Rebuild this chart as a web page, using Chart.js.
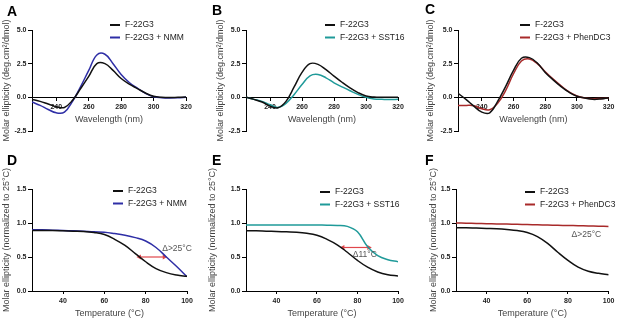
<!DOCTYPE html>
<html>
<head>
  <script src="https://cdn.jsdelivr.net/npm/chart.js"></script>
  <style>
    body { margin: 0; background: #fff; }
    #wrap { position: relative; width: 617px; height: 320px; }
    #wrap canvas { position: absolute; left: 0; top: 0; }
  </style>
</head>
<body>
  <div id="wrap">
    <canvas id="chartA" width="617" height="320"></canvas>
    <canvas id="chartB" width="617" height="320"></canvas>
    <canvas id="chartC" width="617" height="320"></canvas>
    <canvas id="chartD" width="617" height="320"></canvas>
    <canvas id="chartE" width="617" height="320"></canvas>
    <canvas id="chartF" width="617" height="320"></canvas>
  </div>
  <script>
// CD spectra (top row)
const wavelength = [225, 230, 235, 240, 245, 250, 255, 260, 265, 270, 275, 280, 285, 290, 295, 300, 305, 310, 315, 320];
const cdA_f22g3 = [-0.15, -0.3, -0.5, -0.7, -0.75, -0.22, 0.65, 1.55, 2.5, 2.5, 2.0, 1.4, 0.98, 0.65, 0.32, 0.08, 0.0, -0.02, 0.0, 0.02];
const cdA_nmm = [-0.35, -0.6, -0.9, -1.15, -1.1, -0.3, 0.8, 2.0, 3.15, 3.2, 2.5, 1.7, 1.1, 0.68, 0.3, 0.05, -0.03, -0.05, -0.03, 0.0];
const cdB_f22g3 = [0.0, -0.15, -0.35, -0.65, -0.78, -0.3, 0.75, 1.85, 2.5, 2.45, 2.05, 1.58, 1.12, 0.7, 0.35, 0.1, 0.02, 0.0, 0.0, 0.0];
const cdB_sst16 = [0.0, -0.15, -0.3, -0.55, -0.75, -0.45, 0.2, 0.95, 1.6, 1.7, 1.45, 1.08, 0.78, 0.49, 0.22, 0.0, -0.12, -0.15, -0.17, -0.15];
const cdC_f22g3 = [0.3, -0.15, -0.65, -1.1, -1.15, -0.3, 0.8, 2.0, 2.9, 2.95, 2.55, 1.85, 1.3, 0.8, 0.38, 0.08, -0.05, -0.15, -0.12, -0.03];
const cdC_phendc3 = [-0.6, -0.6, -0.62, -0.85, -0.92, -0.45, 0.5, 1.75, 2.7, 2.85, 2.5, 1.9, 1.35, 0.85, 0.4, 0.1, -0.05, -0.1, -0.08, -0.05];

// melting curves (bottom row)
const temperature = [25, 30, 35, 40, 45, 50, 55, 60, 65, 70, 75, 80, 85, 90, 95, 100];
const meltD_f22g3 = [0.89, 0.89, 0.89, 0.885, 0.88, 0.875, 0.86, 0.83, 0.76, 0.67, 0.55, 0.43, 0.33, 0.27, 0.235, 0.215];
const meltD_nmm = [0.9, 0.9, 0.895, 0.89, 0.885, 0.878, 0.87, 0.865, 0.845, 0.82, 0.785, 0.735, 0.64, 0.5, 0.36, 0.21];
const meltE_f22g3 = [0.885, 0.885, 0.88, 0.875, 0.87, 0.865, 0.85, 0.82, 0.76, 0.68, 0.57, 0.45, 0.35, 0.28, 0.24, 0.22];
const meltE_sst16 = [0.97, 0.97, 0.97, 0.97, 0.97, 0.97, 0.97, 0.97, 0.968, 0.965, 0.95, 0.87, 0.65, 0.52, 0.46, 0.43];
const meltF_f22g3 = [0.93, 0.93, 0.925, 0.92, 0.915, 0.905, 0.89, 0.86, 0.8, 0.7, 0.57, 0.45, 0.35, 0.29, 0.26, 0.24];
const meltF_phendc3 = [1.0, 0.997, 0.993, 0.99, 0.987, 0.984, 0.98, 0.977, 0.973, 0.97, 0.967, 0.963, 0.96, 0.957, 0.953, 0.95];

// shift arrows and notes
const arrowD = [77, 89];
const arrowDy = 0.5;
const arrowE = [72.8, 85.6];
const arrowEy = 0.64;
const noteD = ['Δ>25°C', 88, 0.62];
const noteE = ['Δ11°C', 77.7, 0.54];
const noteF = ['Δ>25°C', 81.8, 0.83];

// tick labels
const cdTicksX = [240, 260, 280, 300, 320];
const cdTicksY = [-2.5, 0, 2.5, 5];
const meltTicksX = [40, 60, 80, 100];
const meltTicksY = [0, 0.5, 1, 1.5];

const FONT = '"Liberation Sans", Arial, sans-serif';
const BLACK = '#111';
const BLUE = '#2e2ea6';
const TEAL = '#1f9a99';
const DARKRED = '#a82a2a';
const ARROW = '#e0474c';

Chart.defaults.font.family = FONT;

function xy(xs, ys) {
  return xs.map((x, i) => ({ x: x, y: ys[i] }));
}

function lineSet(label, xs, ys, color) {
  return {
    label: label,
    data: xy(xs, ys),
    borderColor: color,
    backgroundColor: color,
    borderWidth: 1.5,
    pointRadius: 0,
    tension: 0.4,
    fill: false
  };
}

function arrowSet(xs, y) {
  return {
    label: '',
    data: xs.map(x => ({ x: x, y: y })),
    borderColor: ARROW,
    backgroundColor: ARROW,
    borderWidth: 1.2,
    pointStyle: 'triangle',
    pointRotation: [270, 90],
    pointRadius: 3,
    pointBorderWidth: 0
  };
}

// panel letter, legend and delta note
const deco = {
  id: 'deco',
  afterDatasetsDraw(chart, args, o) {
    const ctx = chart.ctx;
    ctx.save();
    ctx.fillStyle = '#000';
    ctx.font = 'bold 14px ' + FONT;
    ctx.textAlign = 'left';
    ctx.textBaseline = 'alphabetic';
    ctx.fillText(o.letter, o.letterX, o.letterY);

    ctx.font = '8.5px ' + FONT;
    ctx.textBaseline = 'middle';
    let row = 0;
    chart.data.datasets.forEach(ds => {
      if (!ds.label) return;
      const y = o.legendY + row * 12.5;
      ctx.strokeStyle = ds.borderColor;
      ctx.lineWidth = 2;
      ctx.beginPath();
      ctx.moveTo(o.legendX - 15, y);
      ctx.lineTo(o.legendX - 5, y);
      ctx.stroke();
      ctx.fillStyle = '#222';
      ctx.fillText(ds.label, o.legendX, y);
      row++;
    });

    if (o.note) {
      ctx.fillStyle = '#555';
      ctx.fillText(o.note[0], chart.scales.x.getPixelForValue(o.note[1]), chart.scales.y.getPixelForValue(o.note[2]));
    }
    ctx.restore();
  }
};

const tickFont = { family: FONT, size: 7, weight: 'bold' };
const titleFont = { family: FONT, size: 9 };

function axisGrid(len) {
  return { display: true, drawOnChartArea: false, drawTicks: true, tickLength: len, color: '#000', lineWidth: 1 };
}

function makePanel(id, cfg) {
  const cd = cfg.kind === 'cd';
  new Chart(document.getElementById(id), {
    type: 'line',
    data: { datasets: cfg.datasets },
    options: {
      responsive: false,
      animation: false,
      events: [],
      devicePixelRatio: 1,
      layout: { padding: cfg.padding },
      plugins: {
        legend: { display: false },
        tooltip: { enabled: false },
        deco: cfg.deco
      },
      scales: {
        x: {
          type: 'linear',
          min: cd ? 225 : 25,
          max: cd ? 320 : 100,
          position: cd ? { y: 0 } : 'bottom',
          afterBuildTicks: s => { s.ticks = (cd ? cdTicksX : meltTicksX).map(v => ({ value: v })); },
          afterFit: s => { if (!cd) s.height = 28; },
          grid: axisGrid(3),
          border: { display: true, color: '#000', width: 1 },
          ticks: { font: tickFont, color: '#222', padding: 2.5, maxRotation: 0, autoSkip: false },
          title: {
            display: true,
            text: cd ? 'Wavelength (nm)' : 'Temperature (°C)',
            font: titleFont,
            color: '#444',
            padding: { top: 0.5, bottom: 0 }
          }
        },
        y: {
          type: 'linear',
          min: cd ? -2.5 : 0,
          max: cd ? 5 : 1.5,
          position: 'left',
          afterBuildTicks: s => { s.ticks = (cd ? cdTicksY : meltTicksY).map(v => ({ value: v })); },
          afterFit: s => { s.width = cfg.yWidth; },
          grid: axisGrid(4),
          border: { display: true, color: '#000', width: 1 },
          ticks: { font: tickFont, color: '#222', padding: 1.5, callback: v => v.toFixed(1) },
          title: {
            display: true,
            text: cd ? 'Molar ellipticity (deg.cm²/dmol)' : 'Molar ellipticity (normalized to 25°C)',
            font: titleFont,
            color: '#444',
            padding: { top: 0, bottom: 0 }
          }
        }
      }
    },
    plugins: [deco]
  });
}

makePanel('chartA', {
  kind: 'cd', yWidth: 30.4,
  padding: { left: 1.6, right: 431, top: 30, bottom: 189 },
  datasets: [lineSet('F-22G3', wavelength, cdA_f22g3, BLACK), lineSet('F-22G3 + NMM', wavelength, cdA_nmm, BLUE)],
  deco: { letter: 'A', letterX: 7, letterY: 16, legendX: 125, legendY: 25 }
});
makePanel('chartB', {
  kind: 'cd', yWidth: 30.9,
  padding: { left: 215.1, right: 219, top: 30, bottom: 189 },
  datasets: [lineSet('F-22G3', wavelength, cdB_f22g3, BLACK), lineSet('F-22G3 + SST16', wavelength, cdB_sst16, TEAL)],
  deco: { letter: 'B', letterX: 212, letterY: 15, legendX: 340, legendY: 25 }
});
makePanel('chartC', {
  kind: 'cd', yWidth: 32.4,
  padding: { left: 425.6, right: 7, top: 30, bottom: 189 },
  datasets: [lineSet('F-22G3', wavelength, cdC_f22g3, BLACK), lineSet('F-22G3 + PhenDC3', wavelength, cdC_phendc3, DARKRED)],
  deco: { letter: 'C', letterX: 425, letterY: 14, legendX: 535, legendY: 25 }
});
makePanel('chartD', {
  kind: 'melt', yWidth: 30.4,
  padding: { left: 1.6, right: 430, top: 189, bottom: 1 },
  datasets: [lineSet('F-22G3', temperature, meltD_f22g3, BLACK), lineSet('F-22G3 + NMM', temperature, meltD_nmm, BLUE), arrowSet(arrowD, arrowDy)],
  deco: { letter: 'D', letterX: 7, letterY: 165, legendX: 128, legendY: 191, note: noteD }
});
makePanel('chartE', {
  kind: 'melt', yWidth: 38.7,
  padding: { left: 207.3, right: 219, top: 189, bottom: 1 },
  datasets: [lineSet('F-22G3', temperature, meltE_f22g3, BLACK), lineSet('F-22G3 + SST16', temperature, meltE_sst16, TEAL), arrowSet(arrowE, arrowEy)],
  deco: { letter: 'E', letterX: 212, letterY: 165, legendX: 335, legendY: 192, note: noteE }
});
makePanel('chartF', {
  kind: 'melt', yWidth: 27.7,
  padding: { left: 428.3, right: 7, top: 189, bottom: 1 },
  datasets: [lineSet('F-22G3', temperature, meltF_f22g3, BLACK), lineSet('F-22G3 + PhenDC3', temperature, meltF_phendc3, DARKRED)],
  deco: { letter: 'F', letterX: 425, letterY: 165, legendX: 540, legendY: 192, note: noteF }
});
  </script>
</body>
</html>
